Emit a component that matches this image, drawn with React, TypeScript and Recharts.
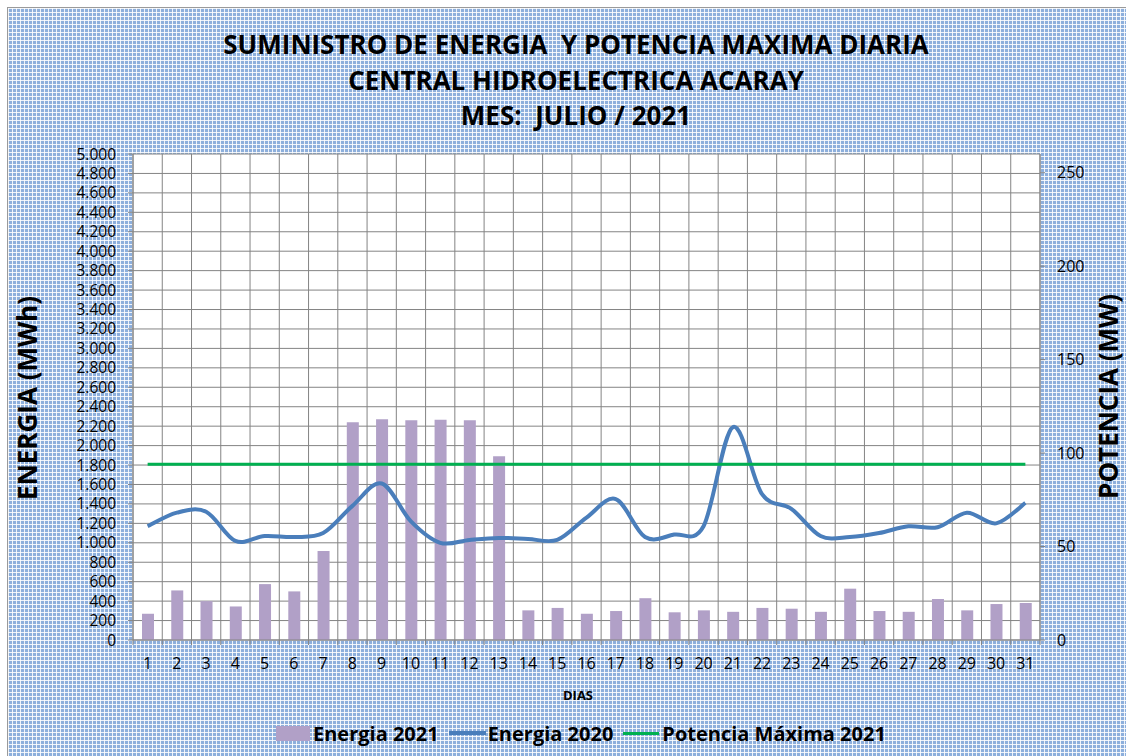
import React from 'react';
import {ComposedChart, Bar, Line, XAxis, YAxis, CartesianGrid} from 'recharts';

// dias del mes
const dias = Array.from({length: 31}, (_, i) => String(i + 1));

// Energia 2021 (MWh)
const energia2021 = [
    270, 510, 400, 345, 575, 500, 915, 2240, 2270, 2260, 2265, 2260, 1890, 305, 330,
    270, 298, 430, 285, 305, 290, 330, 322, 290, 528, 298, 290, 422, 305, 370, 380,
];

// Energia 2020 (MWh)
const energia2020 = [
    1170, 1310, 1320, 1020, 1070, 1060, 1100, 1380, 1610, 1220, 1000, 1030, 1050, 1040, 1030,
    1260, 1450, 1060, 1085, 1170, 2190, 1500, 1350, 1070, 1060, 1100, 1170, 1160, 1310, 1200, 1410,
];

// Potencia Maxima 2021 (MW)
const potenciaMax2021 = 94;

const energiaTicks = Array.from({length: 26}, (_, i) => i * 200);
const potenciaTicks = [0, 50, 100, 150, 200, 250];

const data = dias.map((dia, i) => ({
    dia,
    e2021: energia2021[i],
    e2020: energia2020[i],
    pot: potenciaMax2021,
}));

const FONT = "'Open Sans', 'DejaVu Sans', sans-serif";
const GRID = '#848484';

const fmtMiles = (v: number) => v.toString().replace(/\B(?=(\d{3})+(?!\d))/g, '.');

// suavizado tipo Excel (bezier con puntos de control a 1/6)
const excelSmooth = (context: any) => {
    let pts: [number, number][] = [];
    return {
        areaStart() {},
        areaEnd() {},
        lineStart() {
            pts = [];
        },
        point(x: number, y: number) {
            pts.push([+x, +y]);
        },
        lineEnd() {
            if (!pts.length) return;
            context.moveTo(pts[0][0], pts[0][1]);
            for (let i = 0; i < pts.length - 1; i++) {
                const p0 = pts[Math.max(i - 1, 0)];
                const p1 = pts[i];
                const p2 = pts[i + 1];
                const p3 = pts[Math.min(i + 2, pts.length - 1)];
                context.bezierCurveTo(
                    p1[0] + (p2[0] - p0[0]) / 6, p1[1] + (p2[1] - p0[1]) / 6,
                    p2[0] - (p3[0] - p1[0]) / 6, p2[1] - (p3[1] - p1[1]) / 6,
                    p2[0], p2[1],
                );
            }
        },
    };
};

const DiaTick = (props: any) => {
    const {x, y, payload, index, width} = props;
    const band = width / dias.length;
    return (
        <g>
            <line x1={x - band / 2} x2={x - band / 2} y1={y - 8} y2={y - 3} stroke={GRID} />
            {index === dias.length - 1 && (
                <line x1={x + band / 2} x2={x + band / 2} y1={y - 8} y2={y - 3} stroke={GRID} />
            )}
            <text x={x} y={y + 21} textAnchor="middle" fontSize={16} fontFamily={FONT} fill="#000">
                {payload.value}
            </text>
        </g>
    );
};

const pattern: React.CSSProperties = {
    position: 'absolute',
    left: 7,
    top: 7,
    width: 1119,
    height: 749,
    boxSizing: 'border-box',
    borderLeft: '1px solid #9a9a9a',
    borderTop: '1px solid #9a9a9a',
    backgroundColor: '#8dafdc',
    backgroundImage:
        'linear-gradient(90deg, rgba(255,255,255,0.85) 1px, transparent 1px), linear-gradient(rgba(255,255,255,0.85) 1px, transparent 1px)',
    backgroundSize: '4px 4px',
};

const titleStyle: React.CSSProperties = {
    position: 'absolute',
    left: 0,
    width: 1152,
    textAlign: 'center',
    fontFamily: FONT,
    fontWeight: 700,
    fontSize: 26,
    color: '#000',
    whiteSpace: 'pre',
    lineHeight: '30px',
};

const axisTitle: React.CSSProperties = {
    position: 'absolute',
    fontFamily: FONT,
    fontWeight: 700,
    fontSize: 26,
    lineHeight: '30px',
    color: '#000',
    whiteSpace: 'nowrap',
    writingMode: 'vertical-rl',
    transform: 'rotate(180deg)',
};

const legendText: React.CSSProperties = {
    fontFamily: FONT,
    fontWeight: 700,
    fontSize: 20,
    color: '#000',
};

export default function App() {
    return (
        <div style={{position: 'absolute', left: 0, top: 0, width: 1126, height: 756, overflow: 'hidden', background: '#fff'}}>
            <div style={pattern} />

            <div style={{...titleStyle, top: 29}}>SUMINISTRO DE ENERGIA  Y POTENCIA MAXIMA DIARIA</div>
            <div style={{...titleStyle, top: 65}}>CENTRAL HIDROELECTRICA ACARAY</div>
            <div style={{...titleStyle, top: 100}}>MES:  JULIO / 2021</div>

            <div style={{...axisTitle, left: 12, top: 296}}>ENERGIA (MWh)</div>
            <div style={{...axisTitle, left: 1093, top: 294}}>POTENCIA (MW)</div>

            <div style={{position: 'absolute', left: 0, top: 0}}>
                <ComposedChart
                    width={1126}
                    height={756}
                    data={data}
                    margin={{top: 154, right: 16, left: 63, bottom: 76}}
                >
                    <CartesianGrid
                        yAxisId="energia"
                        stroke={GRID}
                        fill="#fff"
                        fillOpacity={1}
                        verticalCoordinatesGenerator={({offset}: any) =>
                            Array.from({length: dias.length + 1}, (_, i) => offset.left + (i * offset.width) / dias.length)
                        }
                    />
                    <XAxis
                        dataKey="dia"
                        interval={0}
                        height={40}
                        axisLine={{stroke: GRID}}
                        tickLine={false}
                        tick={<DiaTick />}
                    />
                    <YAxis
                        yAxisId="energia"
                        domain={[0, 5000]}
                        ticks={energiaTicks}
                        interval={0}
                        width={70}
                        tickSize={5}
                        tickMargin={12}
                        tickFormatter={fmtMiles}
                        axisLine={{stroke: GRID}}
                        tickLine={{stroke: GRID}}
                        tick={{fill: '#000', fontSize: 15.5, fontFamily: FONT}}
                    />
                    <YAxis
                        yAxisId="potencia"
                        orientation="right"
                        domain={[0, 260]}
                        ticks={potenciaTicks}
                        interval={0}
                        width={70}
                        tickSize={5}
                        tickMargin={12}
                        axisLine={{stroke: GRID}}
                        tickLine={{stroke: GRID}}
                        tick={{fill: '#000', fontSize: 16, fontFamily: FONT}}
                    />
                    <Bar
                        yAxisId="energia"
                        dataKey="e2021"
                        name="Energia 2021"
                        fill="#b1a0c7"
                        barSize={12}
                        isAnimationActive={false}
                    />
                    <Line
                        yAxisId="energia"
                        dataKey="e2020"
                        name="Energia 2020"
                        type={excelSmooth as any}
                        stroke="#4a7ebb"
                        strokeWidth={4}
                        dot={false}
                        activeDot={false}
                        isAnimationActive={false}
                    />
                    <Line
                        yAxisId="potencia"
                        dataKey="pot"
                        name="Potencia Máxima 2021"
                        type="linear"
                        stroke="#00b050"
                        strokeWidth={3}
                        dot={false}
                        activeDot={false}
                        isAnimationActive={false}
                    />
                </ComposedChart>
            </div>

            <div style={{position: 'absolute', left: 0, top: 686, width: 1156, textAlign: 'center', fontFamily: FONT, fontWeight: 700, fontSize: 13}}>
                DIAS
            </div>

            <div style={{position: 'absolute', left: 276, top: 718, display: 'flex', alignItems: 'center', height: 30}}>
                <span style={{display: 'inline-block', width: 34, height: 15, background: '#b1a0c7', marginRight: 3}} />
                <span style={legendText}>Energia 2021</span>
                <span style={{display: 'inline-block', width: 37, height: 4, background: '#4a7ebb', margin: '0 2px 0 10px'}} />
                <span style={legendText}>Energia 2020</span>
                <span style={{display: 'inline-block', width: 36, height: 3, background: '#00b050', margin: '0 3px 0 10px'}} />
                <span style={legendText}>Potencia Máxima 2021</span>
            </div>
        </div>
    );
}
